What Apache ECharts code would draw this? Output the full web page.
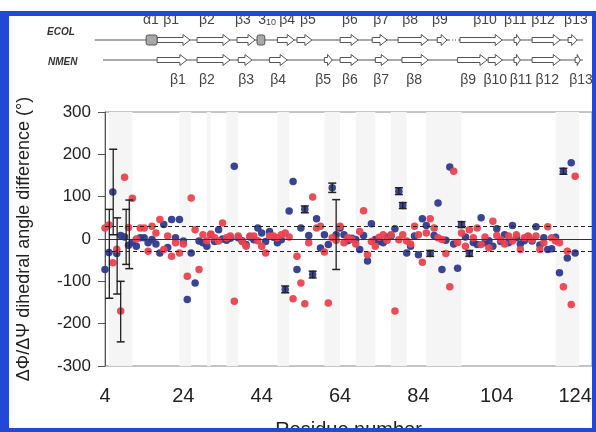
<!DOCTYPE html>
<html>
<head>
<meta charset="utf-8">
<script src="https://cdn.jsdelivr.net/npm/echarts@6/dist/echarts.min.js"></script>
<style>
html,body{margin:0;padding:0;background:#fff}
#chart{width:596px;height:432px}
</style>
</head>
<body>
<div id="chart"></div>
<script>
// residue numbering of the value arrays below
var firstResidue = 4;

// blue points (one per residue, 4..126)
var blueDiff = [-72,-32,111,-34,8,5,-15,-8,-17,3,3,-9,-1,-12,-33,34,-20,46,3,46,
  -5,-143,-33,-104,-5,-9,-17,10,-6,22,0,-3,2,172,3,-4,-13,5,-2,26,
  14,-6,18,4,-9,-2,-119,66,136,-72,26,70,8,-84,48,-21,10,-13,121,10,
  26,10,-4,2,-1,-25,8,-52,36,-1,-6,-9,5,7,24,113,79,-33,-17,7,
  -37,48,32,-34,8,85,-72,-3,170,-12,-69,34,5,-34,-8,-13,50,-9,-4,-17,
  24,-6,10,-9,32,3,-12,-4,6,-5,29,-14,3,-25,-23,4,-80,160,-45,180,
  -33,null,null];

// red points (one per residue, 4..126)
var redDiff = [26,33,-56,-24,-170,146,27,96,0,26,26,-29,30,14,46,-25,7,-41,-9,-33,
  -12,-88,97,22,-72,10,-4,12,3,-5,38,3,7,-147,7,-6,-17,7,7,-4,
  -17,-33,7,7,3,10,14,5,-141,-41,-104,-153,-9,99,26,30,-31,-151,3,-3,
  30,-9,3,-1,-12,18,67,-37,-6,-17,4,10,-3,10,-170,-2,10,-5,-12,30,
  10,-55,14,48,26,3,-1,-34,-113,160,-8,14,-17,22,3,26,-13,5,-21,42,
  8,-1,-12,7,-5,10,-25,3,7,-2,7,-25,-9,29,3,-5,-9,-113,-29,-155,
  148,null,null];

// error bars
var errResidue = [5.1, 6.1, 7.1, 8, 9.4, 10.2, 63, 62, 55, 57, 50, 79, 80, 87, 95, 97, 121];
var errLow     = [-140, 10, -130, -243, -60, -70, -72, 110, 62, -92, -127, 105, 72, -41, 27, -41, 153];
var errHigh    = [70, 212, 50, -100, 70, 92, 93, 132, 78, -76, -111, 121, 86, -27, 41, -27, 167];

// light grey vertical bands [from, to] in residues
var shadedBands = [[5,11],[23,26],[30,31],[35,38],[48,51],[60,64],[68,73],[77,81],[86,95],[119,125]];

var xTickValues = [4, 24, 44, 64, 84, 104, 124];
var xMin = 4, xMax = 128.3;

// secondary structure topology (residue ranges)
var ecolStrands = [[17.3,25.7],[27.5,35.9],[37.7,42.3],[48,52.3],[53,56.8],[64,68.6],[72.2,76],
  [78.8,86.5],[88.8,91.3],[94.6,105.4],[108.4,110],[113,120.2],[122.2,124.5]];
var ecolHelices = [[14.5,17.3],[42.8,44.8]];
var nmenStrands = [[17.3,24.9],[27.5,35.9],[38,41.5],[46,50.5],[60,62],[64,68.6],[73,76.3],
  [79.8,86.5],[94,101.5],[101.8,105.4],[108.4,110],[113,120.2],[124,125.3]];
var ecolBackbone = [[1.4,91.8],[94.2,126]];
var ecolDotted = [[91.8,94.2]];
var nmenBackbone = [[3.5,126]];

var ecolLabels = ['α1','β1','β2','β3','3_10','β4','β5','β6','β7','β8','β9','β10','β11','β12','β13'];
var ecolLabelPos = [15.7,20.9,30,39.2,45.4,50.5,55.8,66.5,74.5,81.9,89.5,101,108.7,115.8,124.2];
var nmenLabels = ['β1','β2','β3','β4','β5','β6','β7','β8','β9','β10','β11','β12','β13'];
var nmenLabelPos = [22.6,30,40,48.2,59.7,66.5,74.5,82.9,96.7,103.6,110.2,116.9,125.5];

// rows of the topology strip (top grid, 0..80 downwards)
var ecolLabelRow = 10, ecolRow = 30, nmenRow = 50, nmenLabelRow = 70;

var blueColor = '#2f3b8c';
var redColor = '#e8434f';
var frameBlue = '#2248d8';
var font = 'Liberation Sans, Arial, sans-serif';

function toPoints(arr){
  var out = [];
  for (var i = 0; i < arr.length; i++) {
    if (arr[i] !== null) out.push([firstResidue + i, arr[i]]);
  }
  return out;
}

// kind: 0 backbone, 1 dotted backbone, 2 strand, 3 helix
var topoData = [];
ecolBackbone.forEach(function(s){ topoData.push([s[0], s[1], ecolRow, 0]); });
ecolDotted.forEach(function(s){ topoData.push([s[0], s[1], ecolRow, 1]); });
nmenBackbone.forEach(function(s){ topoData.push([s[0], s[1], nmenRow, 0]); });
ecolStrands.forEach(function(s){ topoData.push([s[0], s[1], ecolRow, 2]); });
ecolHelices.forEach(function(s){ topoData.push([s[0], s[1], ecolRow, 3]); });
nmenStrands.forEach(function(s){ topoData.push([s[0], s[1], nmenRow, 2]); });

var labelData = [];
ecolLabelPos.forEach(function(x, i){ labelData.push([x, ecolLabelRow, i, 0]); });
nmenLabelPos.forEach(function(x, i){ labelData.push([x, nmenLabelRow, i, 1]); });

var errData = errResidue.map(function(r, i){ return [r, errLow[i], errHigh[i]]; });

function renderTopo(params, api){
  var a = api.coord([api.value(0), api.value(2)]);
  var b = api.coord([api.value(1), api.value(2)]);
  var kind = api.value(3);
  var y = a[1];
  if (kind === 0 || kind === 1) {
    return {type:'line', shape:{x1:a[0], y1:y, x2:b[0], y2:y},
      style:{stroke:'#555', lineWidth:1, lineDash: kind === 1 ? [1,2] : null}};
  }
  if (kind === 3) {
    return {type:'rect', shape:{x:a[0], y:y-5, width:b[0]-a[0], height:10, r:2},
      style:{fill:'#a8a8a8', stroke:'#555', lineWidth:1}};
  }
  var len = b[0] - a[0];
  var head = Math.min(7, len * 0.6);
  var x1 = a[0], x2 = b[0], hx = x2 - head;
  return {type:'polygon', shape:{points:[[x1,y-2.5],[hx,y-2.5],[hx,y-5.5],[x2,y],[hx,y+5.5],[hx,y+2.5],[x1,y+2.5]]},
    style:{fill:'#fff', stroke:'#555', lineWidth:1}};
}

function renderLabel(params, api){
  var p = api.coord([api.value(0), api.value(1)]);
  var idx = api.value(2);
  var txt = api.value(3) === 0 ? ecolLabels[idx] : nmenLabels[idx];
  var style = {x:p[0], y:p[1], align:'center', verticalAlign:'middle', fill:'#444', font:'14px ' + font};
  if (txt === '3_10') {
    style.text = '{n|3}{s|10}';
    style.rich = {n:{fontSize:14, fontFamily:font, fill:'#444'}, s:{fontSize:9, fontFamily:font, fill:'#444', padding:[6,0,0,0]}};
  } else {
    style.text = txt;
  }
  return {type:'text', style:style};
}

function renderErr(params, api){
  var lo = api.coord([api.value(0), api.value(1)]);
  var hi = api.coord([api.value(0), api.value(2)]);
  var w = 4;
  return {type:'group', children:[
    {type:'line', shape:{x1:lo[0], y1:lo[1], x2:hi[0], y2:hi[1]}, style:{stroke:'#222', lineWidth:1.3}},
    {type:'line', shape:{x1:lo[0]-w, y1:lo[1], x2:lo[0]+w, y2:lo[1]}, style:{stroke:'#222', lineWidth:1.5}},
    {type:'line', shape:{x1:hi[0]-w, y1:hi[1], x2:hi[0]+w, y2:hi[1]}, style:{stroke:'#222', lineWidth:1.5}}
  ]};
}

var chart = echarts.init(document.getElementById('chart'), null, {renderer:'canvas'});

var option = {
  animation: false,
  backgroundColor: '#fff',
  grid: [
    {left:105, right:4, top:112, bottom:66, show:true, borderColor:'#8a8a8a', borderWidth:1, backgroundColor:'#fff',
      outerBoundsMode:'none', containLabel:false},
    {left:105, right:4, top:10, height:80, outerBoundsMode:'none'}
  ],
  xAxis: [
    {gridIndex:0, type:'value', min:xMin, max:xMax,
      name:'Residue number', nameLocation:'middle', nameGap:54,
      nameTextStyle:{fontSize:20, color:'#222', fontFamily:font},
      axisLine:{show:true, lineStyle:{color:'#8a8a8a'}},
      axisTick:{show:false},
      splitLine:{show:false},
      axisLabel:{customValues:xTickValues, fontSize:20, color:'#222', fontFamily:font, margin:20}},
    {gridIndex:1, type:'value', min:xMin, max:xMax, show:false}
  ],
  yAxis: [
    {gridIndex:0, type:'value', min:-300, max:300, interval:100,
      name:'ΔΦ/ΔΨ dihedral angle difference (°)', nameLocation:'middle', nameGap:72,
      nameTextStyle:{fontSize:18, color:'#222', fontFamily:font},
      axisLine:{show:true, lineStyle:{color:'#555'}},
      axisTick:{show:true, inside:false, length:7, lineStyle:{color:'#555'}},
      splitLine:{show:false},
      axisLabel:{fontSize:17, color:'#222', fontFamily:font, margin:14}},
    {gridIndex:1, type:'value', min:0, max:80, inverse:true, show:false}
  ],
  graphic: [
    {type:'text', left:47, top:27, style:{text:'ECOL', font:'italic bold 10px ' + font, fill:'#333'}},
    {type:'text', left:48, top:57, style:{text:'NMEN', font:'italic bold 10px ' + font, fill:'#333'}},
    {type:'rect', left:0, top:11, shape:{width:596, height:5}, style:{fill:frameBlue}, z:100},
    {type:'rect', left:0, top:11, shape:{width:9, height:421}, style:{fill:frameBlue}, z:100},
    {type:'rect', left:592, top:11, shape:{width:4, height:421}, style:{fill:frameBlue}, z:100},
    {type:'rect', left:0, top:428, shape:{width:596, height:4}, style:{fill:frameBlue}, z:100}
  ],
  series: [
    {type:'scatter', xAxisIndex:0, yAxisIndex:0, data:[], silent:true,
      markArea:{silent:true, itemStyle:{color:'#f5f5f5'},
        data: shadedBands.map(function(b){ return [{xAxis:b[0]}, {xAxis:b[1]}]; })},
      markLine:{silent:true, symbol:'none', label:{show:false},
        lineStyle:{color:'#222', width:1, type:[4,3]},
        data:[{yAxis:0, lineStyle:{type:'solid', color:'#333'}}, {yAxis:30}, {yAxis:-30}]}},
    {type:'scatter', name:'blue', xAxisIndex:0, yAxisIndex:0, data:toPoints(blueDiff),
      symbol:'circle', symbolSize:7.5, itemStyle:{color:blueColor, opacity:0.95}},
    {type:'scatter', name:'red', xAxisIndex:0, yAxisIndex:0, data:toPoints(redDiff),
      symbol:'circle', symbolSize:7.5, itemStyle:{color:redColor, opacity:0.95}},
    {type:'custom', xAxisIndex:0, yAxisIndex:0, data:errData, renderItem:renderErr, silent:true, z:5},
    {type:'custom', xAxisIndex:1, yAxisIndex:1, data:topoData, renderItem:renderTopo, silent:true, clip:false},
    {type:'custom', xAxisIndex:1, yAxisIndex:1, data:labelData, renderItem:renderLabel, silent:true, clip:false}
  ]
};
chart.setOption(option);
</script>
</body>
</html>
